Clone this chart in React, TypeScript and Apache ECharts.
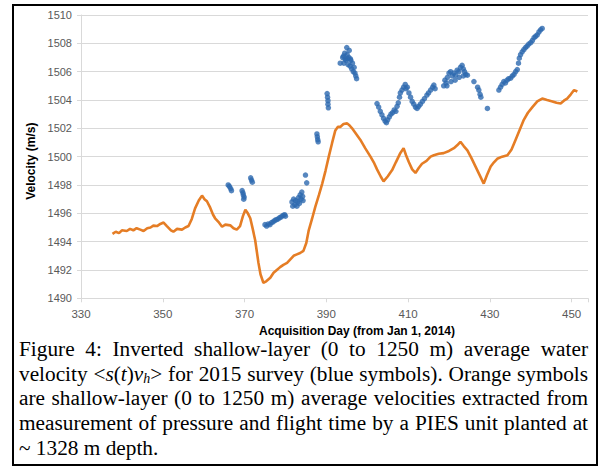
import React, { useEffect, useRef } from "react";
import * as echarts from "echarts";

// ---- Data ----
const xTicks = [330, 350, 370, 390, 410, 430, 450];
const yTicks = [1490, 1492, 1494, 1496, 1498, 1500, 1502, 1504, 1506, 1508, 1510];

// Orange: PIES-derived shallow-layer average velocity [day, m/s]
const piesDays = [
  337.7, 338.5, 339.3, 340.0, 341.2, 342.0, 342.8, 343.6, 344.5, 345.3, 346.2, 347.0, 347.7, 348.6, 349.4,
  350.2, 351.0, 352.0, 352.6, 353.5, 354.7, 355.5, 356.3, 357.1, 357.9, 358.8, 359.6, 360.2, 360.8, 361.6,
  362.3, 362.8, 363.6, 364.5, 365.3, 366.5, 367.3, 368.1, 368.9, 369.6, 370.2, 370.8, 371.4, 372.0, 372.6,
  373.0, 373.4, 373.9, 374.6, 375.3, 376.3, 377.1, 377.9, 378.7, 379.5, 380.4, 381.2, 382.0, 382.8, 383.6,
  384.4, 385.1, 385.7, 386.5, 387.3, 388.2, 389.0, 389.8, 390.6, 391.4, 392.2, 392.8, 393.4, 394.2, 395.1,
  395.7, 396.3, 397.3, 398.3, 399.5, 400.8, 401.6, 402.4, 403.3, 404.0, 405.0, 406.1, 407.0, 408.0, 408.9,
  409.5, 410.2, 411.0, 411.8, 412.6, 413.4, 414.5, 415.5, 416.3, 417.5, 418.7, 420.0, 421.2, 422.0, 422.8,
  423.6, 424.5, 425.5, 426.5, 427.5, 428.5, 429.3, 430.2, 431.0, 431.8, 433.0, 434.3, 435.3, 436.3, 437.3,
  438.3, 439.3, 440.4, 441.6, 442.8, 444.0, 445.3, 446.3, 447.3, 448.1, 448.9, 449.8, 450.6, 451.4,
];
const piesVel = [
  1494.55, 1494.7, 1494.6, 1494.8, 1494.75, 1494.9, 1494.8, 1494.95, 1494.85, 1494.75, 1494.95, 1495.0, 1495.13, 1495.1, 1495.25,
  1495.35, 1495.1, 1494.8, 1494.7, 1494.9, 1494.85, 1495.0, 1495.1, 1495.6, 1496.35, 1496.9, 1497.25, 1497.0, 1496.85, 1496.4,
  1495.9, 1495.65, 1495.4, 1495.05, 1495.2, 1495.15, 1494.95, 1494.85, 1495.1, 1495.8, 1496.25, 1496.0, 1495.65, 1494.9, 1494.1,
  1493.3, 1492.5, 1491.7, 1491.1, 1491.2, 1491.45, 1491.8, 1492.0, 1492.2, 1492.36, 1492.5, 1492.75, 1493.0, 1493.1, 1493.2,
  1493.35, 1493.9, 1494.8, 1495.6, 1496.45, 1497.3, 1498.1, 1499.0, 1500.0, 1500.95, 1501.85, 1502.1, 1502.1, 1502.3, 1502.35,
  1502.2, 1502.0, 1501.6, 1501.2, 1500.6, 1500.0, 1499.6, 1499.1, 1498.6, 1498.25, 1498.6, 1499.05, 1499.6, 1500.2, 1500.6,
  1500.1, 1499.6, 1499.1, 1498.85, 1499.2, 1499.5, 1499.7, 1500.0, 1500.1, 1500.2, 1500.25, 1500.4, 1500.6, 1500.8, 1501.05,
  1500.75, 1500.45, 1499.9, 1499.3, 1498.7, 1498.1, 1498.7, 1499.3, 1499.6, 1499.85, 1500.0, 1500.1, 1500.5, 1501.2, 1501.9,
  1502.6, 1503.1, 1503.5, 1503.9, 1504.1, 1504.0, 1503.9, 1503.8, 1503.75, 1503.95, 1504.1, 1504.4, 1504.7, 1504.6,
];

// Blue: inverted shallow-layer average velocity, 2015 survey [day, m/s]
const surveyPoints: [number, number][] = [
  [366.0, 1498.0], [366.3, 1497.9], [366.6, 1497.75], [366.8, 1497.6],
  [369.4, 1497.6], [369.6, 1497.45], [369.7, 1497.3], [369.9, 1497.15], [369.8, 1497.0],
  [371.5, 1498.5], [371.7, 1498.35], [371.9, 1498.2],
  [375.0, 1495.2], [375.4, 1495.1], [375.8, 1495.25], [376.2, 1495.2], [376.6, 1495.35], [377.0, 1495.4],
  [377.4, 1495.5], [377.8, 1495.55], [378.2, 1495.6], [378.6, 1495.7], [379.0, 1495.75], [379.4, 1495.85],
  [379.8, 1495.9], [380.0, 1495.8],
  [381.6, 1496.8], [381.8, 1496.5], [382.0, 1497.0], [382.3, 1496.6], [382.5, 1496.9], [382.8, 1496.5],
  [383.0, 1496.8], [383.2, 1497.1], [383.4, 1496.7], [383.6, 1497.3], [383.8, 1497.0], [384.0, 1497.5],
  [384.2, 1497.2], [384.3, 1496.9],
  [384.9, 1498.7], [385.2, 1498.15],
  [387.7, 1501.6], [387.8, 1501.4], [387.9, 1501.2], [388.0, 1501.05],
  [390.2, 1504.45], [390.3, 1504.2], [390.4, 1503.95], [390.4, 1503.7], [390.5, 1503.45],
  [393.4, 1506.6], [394.0, 1507.0], [394.3, 1506.6], [394.5, 1507.3], [394.8, 1506.8], [395.0, 1507.7],
  [395.1, 1507.2], [395.3, 1506.5], [395.5, 1507.0], [395.6, 1507.5], [395.8, 1506.4], [396.0, 1506.8],
  [396.2, 1506.2], [396.4, 1506.6], [396.6, 1506.0], [396.8, 1506.3], [397.0, 1505.9], [397.2, 1505.7],
  [397.4, 1505.5], [394.6, 1506.9], [395.2, 1506.9], [395.9, 1506.9], [394.2, 1507.1],
  [402.4, 1503.75], [402.8, 1503.5], [403.2, 1503.2], [403.6, 1502.95], [404.0, 1502.7], [404.4, 1502.5],
  [404.7, 1502.4], [405.0, 1502.6], [405.4, 1502.8], [405.8, 1503.0], [406.2, 1503.1], [406.6, 1503.3],
  [407.0, 1503.2], [407.3, 1503.55], [407.6, 1503.8], [407.9, 1504.2], [408.1, 1504.5], [408.5, 1504.7],
  [408.9, 1504.9], [409.3, 1505.1], [409.5, 1504.8], [409.8, 1504.9], [410.2, 1504.5], [410.6, 1504.2],
  [411.0, 1503.9], [411.4, 1503.7], [411.8, 1503.5], [412.2, 1503.4], [412.6, 1503.55], [413.0, 1503.7],
  [413.5, 1503.9], [414.0, 1504.1], [414.6, 1504.35], [415.0, 1504.5], [415.5, 1504.7], [416.0, 1504.9],
  [416.3, 1505.05], [416.6, 1504.8],
  [418.7, 1505.0], [419.0, 1505.4], [419.3, 1505.2], [419.6, 1505.6], [420.0, 1505.9], [420.4, 1506.0],
  [420.8, 1505.7], [421.2, 1505.9], [421.6, 1505.75], [422.0, 1506.1], [422.4, 1506.0], [422.8, 1506.3],
  [423.2, 1506.45], [423.5, 1506.2], [423.8, 1506.0], [424.1, 1505.8], [424.5, 1505.75],
  [419.5, 1505.0], [420.5, 1505.3], [421.5, 1505.4], [422.5, 1505.6], [423.5, 1505.7],
  [426.1, 1505.3], [427.0, 1504.9], [427.3, 1504.7], [427.6, 1504.4], [427.8, 1504.2], [429.4, 1503.4],
  [432.2, 1504.7], [432.6, 1504.9], [433.0, 1505.1], [433.4, 1505.3], [433.8, 1505.2], [434.2, 1505.4],
  [434.6, 1505.5], [435.1, 1505.55], [435.5, 1505.7], [435.9, 1505.8], [436.3, 1506.0], [436.7, 1506.15],
  [437.0, 1506.6], [437.2, 1506.95], [437.5, 1507.2], [437.9, 1507.4], [438.3, 1507.55], [438.7, 1507.7],
  [439.1, 1507.8], [439.5, 1507.95], [440.0, 1508.05], [440.4, 1508.2], [440.8, 1508.4], [441.2, 1508.5],
  [441.6, 1508.6], [442.0, 1508.8], [442.4, 1508.95], [442.8, 1509.05],
];

const xTitle = "Acquisition Day (from Jan 1, 2014)";
const yTitle = "Velocity (m/s)";
const captionLines = [
  "Figure 4: Inverted shallow-layer (0 to 1250 m) average water",
  "velocity <s(t)vh> for 2015 survey (blue symbols). Orange symbols",
  "are shallow-layer (0 to 1250 m) average velocities extracted from",
  "measurement of pressure and flight time by a PIES unit planted at",
  "~ 1328 m depth.",
];

// ---- Caption layout helpers ----
type Run = { text: string; italic?: boolean; sub?: boolean };
const CAP_FONT = 21.3;
const SUB_FONT = 14;
const CAP_FAMILY = '"Liberation Serif", "Times New Roman", serif';

function wordRuns(word: string): Run[] {
  if (word === "<s(t)vh>") {
    return [
      { text: "<" },
      { text: "s", italic: true },
      { text: "(" },
      { text: "t", italic: true },
      { text: ")" },
      { text: "v", italic: true },
      { text: "h", italic: true, sub: true },
      { text: ">" },
    ];
  }
  return [{ text: word }];
}

function buildCaption(ctx: CanvasRenderingContext2D | null) {
  const left = 19;
  const right = 588;
  const top = 349;
  const lineGap = 24.7;
  const els: any[] = [];
  const sizeOf = (r: Run) => (r.sub ? SUB_FONT : CAP_FONT);
  const fontOf = (r: Run) => `${r.italic ? "italic " : ""}${sizeOf(r)}px ${CAP_FAMILY}`;
  const measure = (r: Run) => {
    if (!ctx) return r.text.length * sizeOf(r) * 0.45;
    ctx.font = fontOf(r);
    return ctx.measureText(r.text).width;
  };
  captionLines.forEach((line, li) => {
    const words = line.split(" ").map(wordRuns);
    const widths = words.map((runs) => runs.reduce((s, r) => s + measure(r), 0));
    const total = widths.reduce((a, b) => a + b, 0);
    const spaceW = measure({ text: " " });
    const justify = li < captionLines.length - 1;
    const gap = justify && words.length > 1 ? (right - left - total) / (words.length - 1) : spaceW;
    let x = left;
    const y = top + li * lineGap;
    words.forEach((runs, wi) => {
      let rx = x;
      runs.forEach((r) => {
        els.push({
          type: "text",
          x: rx,
          y: r.sub ? y + 5 : y,
          silent: true,
          style: {
            text: r.text,
            fontFamily: CAP_FAMILY,
            fontSize: sizeOf(r),
            fontStyle: r.italic ? "italic" : "normal",
            fill: "#000",
            align: "left",
            verticalAlign: "middle",
          },
        });
        rx += measure(r);
      });
      x += widths[wi] + gap;
    });
  });
  return els;
}

export default function App() {
  const ref = useRef<HTMLDivElement>(null);

  useEffect(() => {
    if (!ref.current) return;
    const chart = echarts.init(ref.current, undefined, { renderer: "svg" });
    const canvas = document.createElement("canvas");
    const ctx = canvas.getContext("2d");

    const piesData = piesDays.map((d, i) => [d, piesVel[i]]);
    const axisFont = '"Liberation Sans", Arial, sans-serif';

    chart.setOption({
      animation: false,
      backgroundColor: "#ffffff",
      grid: { left: 81, top: 15, width: 507, height: 283.3, containLabel: false },
      xAxis: {
        type: "value",
        min: 330,
        max: 454,
        interval: 20,
        name: xTitle,
        nameLocation: "middle",
        nameGap: 24,
        nameTextStyle: {
          fontFamily: axisFont,
          fontSize: 12,
          fontWeight: "bold",
          color: "#000",
          padding: [0, 0, 0, 45],
        },
        axisLine: { show: true, lineStyle: { color: "#D9D9D9", width: 1 } },
        axisTick: { show: true, length: 4, lineStyle: { color: "#D9D9D9" } },
        splitLine: { show: false },
        axisLabel: {
          color: "#595959",
          fontFamily: axisFont,
          fontSize: 11.5,
          margin: 10,
          formatter: (v: number) => (xTicks.includes(v) ? String(v) : ""),
        },
      },
      yAxis: {
        type: "value",
        min: 1490,
        max: 1510,
        interval: 2,
        name: yTitle,
        nameLocation: "middle",
        nameRotate: 90,
        nameGap: 43,
        nameTextStyle: {
          fontFamily: axisFont,
          fontSize: 12,
          fontWeight: "bold",
          color: "#000",
          padding: [0, 9, 0, 0],
        },
        axisLine: { show: true, lineStyle: { color: "#D9D9D9", width: 1 } },
        axisTick: { show: true, length: 4, lineStyle: { color: "#D9D9D9" } },
        splitLine: { show: true, lineStyle: { color: "#D9D9D9", width: 1 } },
        axisLabel: {
          color: "#595959",
          fontFamily: axisFont,
          fontSize: 11,
          margin: 9,
          formatter: (v: number) => (yTicks.includes(v) ? String(v) : ""),
        },
      },
      series: [
        {
          name: "PIES",
          type: "line",
          data: piesData,
          showSymbol: false,
          symbol: "none",
          lineStyle: { color: "#E57D25", width: 2.6 },
          z: 2,
        },
        {
          name: "Survey 2015",
          type: "scatter",
          data: surveyPoints,
          symbol: "circle",
          symbolSize: 5.5,
          itemStyle: { color: "#2D69AF" },
          z: 3,
        },
      ],
      graphic: [
        {
          type: "rect",
          shape: { x: 13, y: 5, width: 584, height: 460 },
          style: { fill: "none", stroke: "#000", lineWidth: 2 },
          silent: true,
        },
        ...buildCaption(ctx),
      ],
    });

    return () => chart.dispose();
  }, []);

  return (
    <div
      ref={ref}
      style={{ position: "fixed", left: 0, top: 0, width: 599, height: 470, background: "#fff" }}
    />
  );
}
